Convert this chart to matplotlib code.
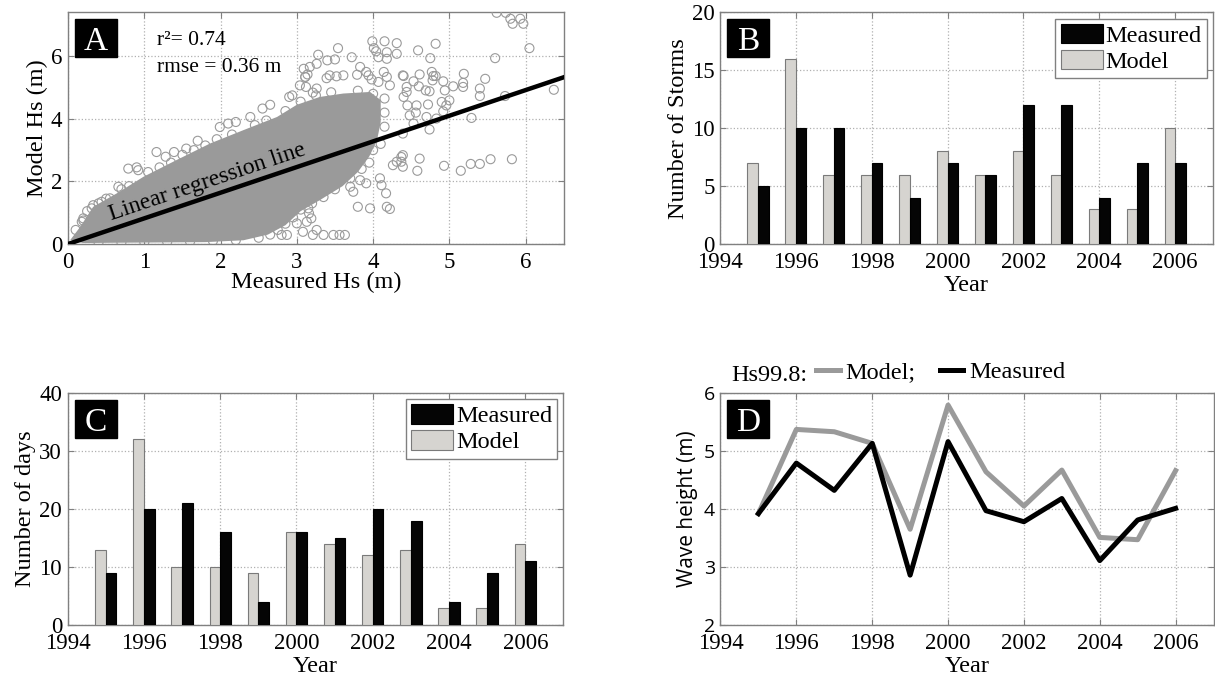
import numpy as np
import matplotlib
matplotlib.use('Agg')
import matplotlib.pyplot as plt
from matplotlib.patches import Patch, Rectangle
from matplotlib.lines import Line2D

plt.rcParams['font.family'] = ['Liberation Serif', 'DejaVu Serif']
plt.rcParams['font.size'] = 16

# ---- data ----
years = [1995, 1996, 1997, 1998, 1999, 2000, 2001, 2002, 2003, 2004, 2005, 2006]
storms_model = [7, 16, 6, 6, 6, 8, 6, 8, 6, 3, 3, 10]
storms_measured = [5, 10, 10, 7, 4, 7, 6, 12, 12, 4, 7, 7]
days_model = [13, 32, 10, 10, 9, 16, 14, 12, 13, 3, 3, 14]
days_measured = [9, 20, 21, 16, 4, 16, 15, 20, 18, 4, 9, 11]
hs_model = [3.92, 5.37, 5.33, 5.13, 3.65, 5.79, 4.64, 4.05, 4.67, 3.51, 3.47, 4.66]
hs_measured = [3.92, 4.79, 4.32, 5.13, 2.86, 5.16, 3.97, 3.78, 4.18, 3.11, 3.81, 4.01]

reg_slope = 0.82
r2 = 0.74
rmse = 0.36

# outline of the dense part of the scatter cloud (overlapping circles)
cloud_x = [0.03, 0.16, 0.33, 0.64, 0.99, 1.42, 1.86, 2.30, 2.74, 3.0, 3.3, 3.61, 3.96,
           4.1, 4.1, 4.05, 3.95, 3.8, 3.6, 3.3, 3.05, 2.85, 2.62, 2.3, 1.8, 1.2, 0.6, 0.2]
cloud_y = [0.13, 0.55, 1.19, 1.62, 2.15, 2.68, 3.21, 3.64, 4.06, 4.45, 4.7, 4.81, 4.86,
           4.6, 3.9, 3.3, 2.8, 2.3, 1.85, 1.4, 1.05, 0.6, 0.3, 0.12, 0.06, 0.05, 0.04, 0.03]

# circles along the edge of the cloud
edge_x = [0.1, 0.2, 0.25, 0.4, 0.5, 0.7, 0.8, 1.05, 1.2, 1.35, 1.5, 1.65, 1.8, 1.95,
          2.15, 2.45, 2.6, 2.85, 3.05, 3.25, 3.45, 3.8, 4.0, 4.15, 4.15, 4.15, 4.1, 4.0,
          3.95, 3.85, 3.7, 3.5, 3.35, 3.2, 3.05, 2.95, 2.85, 2.75, 2.65, 2.5, 2.2, 1.9,
          1.6, 1.3, 1.0, 0.7, 0.4]
edge_y = [0.45, 0.75, 1.05, 1.3, 1.45, 1.75, 1.85, 2.3, 2.45, 2.6, 2.85, 3.0, 3.15, 3.35,
          3.5, 3.8, 3.95, 4.25, 4.55, 4.75, 4.85, 4.9, 4.8, 4.65, 4.2, 3.75, 3.2, 3.0,
          2.6, 2.4, 2.1, 1.75, 1.5, 1.3, 1.1, 0.85, 0.65, 0.45, 0.3, 0.2, 0.12, 0.1,
          0.08, 0.07, 0.06, 0.05, 0.05]

# individual circles outside the dense cloud
out_x = [5.62, 5.74, 5.80, 5.83, 5.93, 5.97, 6.05, 5.60, 6.37, 4.82, 4.59, 4.75,
         4.40, 4.61, 4.77, 4.79, 4.82, 4.78, 4.53, 4.60, 4.69, 4.74, 4.92, 4.94,
         5.05, 5.19, 5.18, 5.18, 5.40, 5.47, 5.40, 5.00, 4.90, 4.96, 4.72, 4.70,
         4.57, 4.56, 4.48, 4.45, 4.40, 4.53, 4.74, 4.39, 5.29, 5.73, 4.61, 4.39,
         4.37, 4.58, 4.93, 5.15, 5.28, 5.40, 5.54, 5.82, 4.92, 4.83,
         3.99, 4.15, 4.31, 4.01, 4.04, 4.18, 4.31, 4.07, 4.18, 3.54, 3.28, 3.40,
         3.50, 3.26, 3.17, 3.72, 3.83, 3.79, 3.91, 3.94, 4.14, 4.18, 4.39, 4.44,
         4.44, 4.22, 4.07, 3.98, 3.61, 3.52, 3.43, 3.39, 3.11, 3.14, 3.12, 2.94,
         3.21, 3.26, 3.04,
         3.80, 3.96, 4.18, 4.22, 4.09, 4.11, 4.17, 4.31, 4.39, 4.37, 4.26, 3.15,
         3.16, 3.19, 3.13, 3.00, 2.87, 2.80, 3.08, 3.21, 3.35, 3.48, 3.56, 3.63,
         3.26, 3.83, 3.91, 3.70, 3.74,
         1.16, 1.28, 1.39, 0.79, 0.92, 0.66, 0.55, 0.44, 0.33, 0.31, 0.20, 0.18,
         1.99, 2.10, 2.39, 2.55, 2.90, 3.09, 3.11, 1.70, 1.55, 2.20, 2.65, 0.90]
out_y = [7.39, 7.39, 7.20, 7.04, 7.20, 7.04, 6.26, 5.94, 4.93, 6.40, 6.19, 5.94,
         5.37, 5.42, 5.50, 5.37, 5.37, 5.23, 5.20, 5.04, 4.91, 4.88, 5.20, 4.91,
         5.04, 5.44, 5.15, 5.02, 4.97, 5.28, 4.73, 4.59, 4.54, 4.43, 4.46, 4.06,
         4.43, 4.20, 4.11, 4.43, 4.70, 3.85, 3.66, 3.53, 4.03, 4.73, 2.73, 2.84,
         2.63, 2.34, 2.50, 2.34, 2.56, 2.56, 2.71, 2.71, 4.24, 4.01,
         6.48, 6.48, 6.42, 6.26, 6.16, 6.13, 6.08, 5.97, 5.92, 6.26, 6.05, 5.87,
         5.90, 5.76, 5.66, 5.97, 5.66, 5.41, 5.50, 5.39, 5.50, 5.34, 5.39, 5.02,
         4.86, 5.07, 5.18, 5.26, 5.39, 5.36, 5.39, 5.30, 5.34, 5.42, 5.02, 4.75,
         4.84, 4.97, 5.07,
         1.19, 1.14, 1.19, 1.12, 2.10, 1.88, 1.62, 2.63, 2.47, 2.78, 2.52, 1.14,
         0.98, 0.82, 0.71, 0.66, 0.29, 0.29, 0.39, 0.29, 0.29, 0.29, 0.29, 0.29,
         0.45, 2.04, 1.94, 1.83, 1.67,
         2.94, 2.79, 2.94, 2.41, 2.36, 1.83, 1.46, 1.35, 1.24, 1.14, 0.82, 0.71,
         3.74, 3.85, 4.06, 4.33, 4.70, 5.60, 5.34, 3.30, 3.05, 3.90, 4.45, 2.45]

gray = '#9a9a9a'
frame = '#808080'
tick_fs = 16.5
label_fs = 17.5
W, H = 1215, 675


def style(ax):
    for s in ax.spines.values():
        s.set_color(frame)
        s.set_linewidth(1.0)
    ax.tick_params(direction='in', top=True, right=True, length=4,
                   color=frame, labelsize=tick_fs, pad=4)
    ax.tick_params(axis='x', pad=6)
    ax.grid(True, linestyle=':', color='#b0b0b0', linewidth=0.9)
    ax.set_axisbelow(True)


def panel_label(ax, letter):
    # black box 42x38 px, 7 px in from the top-left corner
    pos = ax.get_position()
    aw, ah = pos.width * W, pos.height * H
    bx, by = 7 / aw, 1 - 7 / ah - 38 / ah
    ax.add_patch(Rectangle((bx, by), 42 / aw, 38 / ah, transform=ax.transAxes,
                           fc='black', ec='black', zorder=10, clip_on=False))
    ax.text(bx + 21 / aw, by + 19 / ah, letter, transform=ax.transAxes, color='white',
            fontsize=24, ha='center', va='center_baseline', zorder=11)


fig = plt.figure(figsize=(12.15, 6.75), dpi=100)
axA = fig.add_axes([0.056, 0.6385, 0.408, 0.343])
axB = fig.add_axes([0.5926, 0.6385, 0.4058, 0.343])
axC = fig.add_axes([0.0557, 0.074, 0.408, 0.344])
axD = fig.add_axes([0.593, 0.074, 0.4058, 0.344])

# ---- A: scatter ----
style(axA)
axA.fill(cloud_x, cloud_y, color=gray, lw=0, zorder=2)
for xs, ys in [(edge_x, edge_y), (out_x, out_y)]:
    axA.scatter(xs, ys, s=42, facecolors='none', edgecolors=gray, linewidths=0.8, zorder=3)
xx = np.array([0, 6.5])
axA.plot(xx, reg_slope * xx, color='black', lw=3.2, zorder=4)
axA.text(1.87, reg_slope * 1.87 + 0.12, 'Linear regression line', fontsize=17,
         rotation=np.degrees(np.arctan(reg_slope)), transform_rotates_text=True,
         rotation_mode='anchor', ha='center', va='bottom', zorder=5)
axA.text(1.17, 6.35, 'r\u00b2= %.2f' % r2, fontsize=15.5)
axA.text(1.17, 5.49, 'rmse = %.2f m' % rmse, fontsize=15.5)
axA.set_xlim(0, 6.5)
axA.set_ylim(0, 7.4)
axA.set_xticks(range(0, 7))
axA.set_yticks([0, 2, 4, 6])
axA.set_xlabel('Measured Hs (m)', fontsize=label_fs, labelpad=-1)
axA.set_ylabel('Model Hs (m)', fontsize=label_fs, labelpad=2)
panel_label(axA, 'A')

# ---- B and C: bars ----
yr = np.array(years)
bw = 0.28
for ax, mod, mea, ylim, yt, ylab in [
        (axB, storms_model, storms_measured, 20, range(0, 21, 5), 'Number of Storms'),
        (axC, days_model, days_measured, 40, range(0, 41, 10), 'Number of days')]:
    style(ax)
    ax.bar(yr - bw / 2, mod, width=bw, color='#d6d4d0', edgecolor='#7a7a7a', lw=0.8, zorder=3)
    ax.bar(yr + bw / 2, mea, width=bw, color='#050505', edgecolor='black', lw=0.8, zorder=3)
    ax.set_xlim(1994, 2007)
    ax.set_ylim(0, ylim)
    ax.set_xticks(range(1994, 2007, 2))
    ax.set_yticks(list(yt))
    ax.set_xlabel('Year', fontsize=label_fs, labelpad=1)
    ax.set_ylabel(ylab, fontsize=label_fs, labelpad=2)
    handles = [Patch(fc='#050505', ec='black', lw=0.8),
               Patch(fc='#d6d4d0', ec='#7a7a7a', lw=0.8)]
    leg = ax.legend(handles, ['Measured', 'Model'], loc='upper right', fontsize=label_fs,
                    handlelength=1.75, handleheight=0.85, handletextpad=0.1,
                    labelspacing=0.12, borderpad=0.22, borderaxespad=0.25,
                    fancybox=False, framealpha=1)
    leg.get_frame().set_edgecolor(frame)
    leg.get_frame().set_linewidth(1.0)
panel_label(axB, 'B')
panel_label(axC, 'C')

# ---- D: lines ----
style(axD)
axD.plot(years, hs_model, color='#9a9a9a', lw=3.6, zorder=3)
axD.plot(years, hs_measured, color='black', lw=3.6, zorder=3)
axD.set_xlim(1994, 2007)
axD.set_ylim(2, 6)
axD.set_xticks(range(1994, 2007, 2))
axD.set_yticks(range(2, 7))
for t in axD.get_yticklabels():
    t.set_fontfamily(['Open Sans', 'DejaVu Sans'])
    t.set_fontsize(14)
axD.set_xlabel('Year', fontsize=label_fs, labelpad=1)
axD.set_ylabel('Wave height (m)', fontsize=15, family=['Open Sans', 'DejaVu Sans'], labelpad=4)
axD.text(0.022, 1.03, 'Hs99.8:', transform=axD.transAxes, fontsize=label_fs, va='bottom')
lh = [Line2D([], [], color='#9a9a9a', lw=3.6), Line2D([], [], color='black', lw=3.6)]
axD.legend(lh, ['Model;', 'Measured'], ncol=2, loc='lower left',
           bbox_to_anchor=(0.17, 0.99), frameon=False, fontsize=label_fs,
           handlelength=0.95, handletextpad=0.25, columnspacing=1.0, borderpad=0)
panel_label(axD, 'D')

fig.savefig('out.png', dpi=100)
